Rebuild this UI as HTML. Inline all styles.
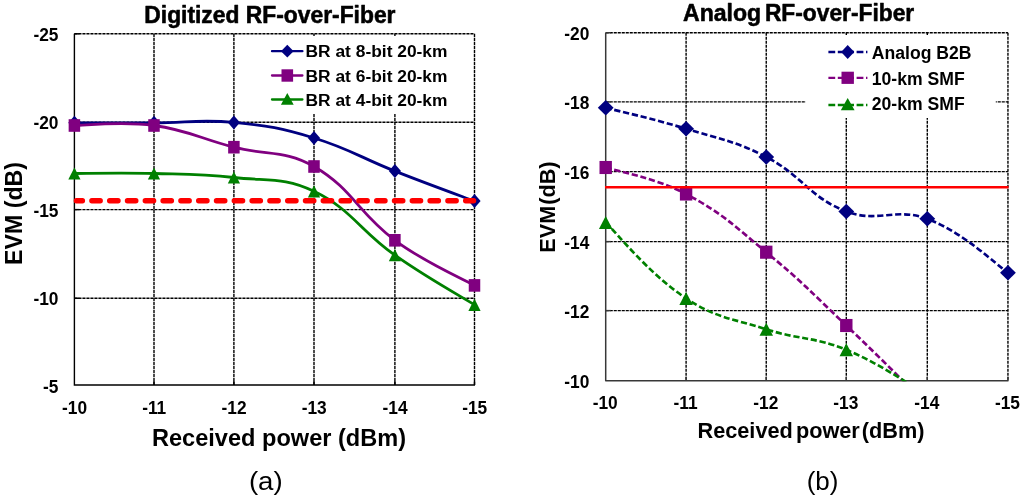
<!DOCTYPE html>
<html><head><meta charset="utf-8"><title>RF-over-Fiber EVM charts</title>
<style>
html,body{margin:0;padding:0;background:#fff}
svg{display:block;will-change:transform}
text{font-family:"Liberation Sans", sans-serif;fill:#000}
</style></head><body>
<svg width="1024" height="498" viewBox="0 0 1024 498">
<rect width="1024" height="498" fill="#fff"/>
<path d="M154.00 33.80V385.00" stroke="#000" stroke-width="1.4" stroke-dasharray="3.1 0.9" fill="none"/>
<path d="M233.90 33.80V385.00" stroke="#000" stroke-width="1.4" stroke-dasharray="3.1 0.9" fill="none"/>
<path d="M314.00 33.80V385.00" stroke="#000" stroke-width="1.4" stroke-dasharray="3.1 0.9" fill="none"/>
<path d="M394.90 33.80V385.00" stroke="#000" stroke-width="1.4" stroke-dasharray="3.1 0.9" fill="none"/>
<path d="M474.50 33.80V385.00" stroke="#000" stroke-width="1.4" stroke-dasharray="3.1 0.9" fill="none"/>
<path d="M74.40 33.80H474.50" stroke="#000" stroke-width="1.4" stroke-dasharray="3.1 0.9" fill="none"/>
<path d="M74.40 122.20H474.50" stroke="#000" stroke-width="1.4" stroke-dasharray="3.1 0.9" fill="none"/>
<path d="M74.40 209.60H474.50" stroke="#000" stroke-width="1.4" stroke-dasharray="3.1 0.9" fill="none"/>
<path d="M74.40 298.30H474.50" stroke="#000" stroke-width="1.4" stroke-dasharray="3.1 0.9" fill="none"/>
<rect x="262" y="36" width="210.5" height="78" fill="#fff"/>
<path d="M74.40 33.80V385.00H475.00" stroke="#000" stroke-width="1.4" fill="none"/>
<path d="M154.00 381.00V385.00" stroke="#000" stroke-width="1.4"/>
<path d="M233.90 381.00V385.00" stroke="#000" stroke-width="1.4"/>
<path d="M314.00 381.00V385.00" stroke="#000" stroke-width="1.4"/>
<path d="M394.90 381.00V385.00" stroke="#000" stroke-width="1.4"/>
<path d="M474.50 381.00V385.00" stroke="#000" stroke-width="1.4"/>
<path d="M74.40 33.80H79.40" stroke="#000" stroke-width="1.4"/>
<path d="M74.40 122.20H79.40" stroke="#000" stroke-width="1.4"/>
<path d="M74.40 209.60H79.40" stroke="#000" stroke-width="1.4"/>
<path d="M74.40 298.30H79.40" stroke="#000" stroke-width="1.4"/>
<path d="M74.40 122.80 C85.54 122.80 120.57 122.88 154.00 122.80 C187.56 122.72 200.65 119.24 233.90 122.40 C267.85 125.63 281.35 128.12 314.00 138.00 C348.97 148.58 360.74 157.67 394.90 171.10 C428.15 184.17 463.36 196.90 474.50 201.10" stroke="#000080" stroke-width="2.80" fill="none" stroke-linejoin="round"/>
<path d="M74.40 115.80L80.50 122.80L74.40 129.80L68.30 122.80Z" fill="#000080"/>
<path d="M154.00 115.80L160.10 122.80L154.00 129.80L147.90 122.80Z" fill="#000080"/>
<path d="M233.90 115.40L240.00 122.40L233.90 129.40L227.80 122.40Z" fill="#000080"/>
<path d="M314.00 131.00L320.10 138.00L314.00 145.00L307.90 138.00Z" fill="#000080"/>
<path d="M394.90 164.10L401.00 171.10L394.90 178.10L388.80 171.10Z" fill="#000080"/>
<path d="M474.50 194.10L480.60 201.10L474.50 208.10L468.40 201.10Z" fill="#000080"/>
<path d="M74.40 125.50 C85.54 125.50 121.16 121.03 154.00 125.50 C188.15 130.15 200.22 138.57 233.90 147.20 C267.42 155.79 284.97 149.71 314.00 166.50 C352.59 188.81 358.17 213.09 394.90 240.30 C425.58 263.03 463.36 279.09 474.50 285.40" stroke="#800080" stroke-width="2.80" fill="none" stroke-linejoin="round"/>
<rect x="68.65" y="119.20" width="11.50" height="12.60" fill="#800080"/>
<rect x="148.25" y="119.20" width="11.50" height="12.60" fill="#800080"/>
<rect x="228.15" y="140.90" width="11.50" height="12.60" fill="#800080"/>
<rect x="308.25" y="160.20" width="11.50" height="12.60" fill="#800080"/>
<rect x="389.15" y="234.00" width="11.50" height="12.60" fill="#800080"/>
<rect x="468.75" y="279.10" width="11.50" height="12.60" fill="#800080"/>
<path d="M74.40 173.50 C85.54 173.50 120.59 172.66 154.00 173.50 C187.58 174.34 200.57 173.79 233.90 177.50 C267.77 181.27 284.19 176.91 314.00 191.30 C351.81 209.55 359.60 230.24 394.90 255.20 C427.01 277.91 463.36 297.86 474.50 304.80" stroke="#008000" stroke-width="2.80" fill="none" stroke-linejoin="round"/>
<path d="M74.40 167.40L80.50 179.60L68.30 179.60Z" fill="#008000"/>
<path d="M154.00 167.40L160.10 179.60L147.90 179.60Z" fill="#008000"/>
<path d="M233.90 171.40L240.00 183.60L227.80 183.60Z" fill="#008000"/>
<path d="M314.00 185.20L320.10 197.40L307.90 197.40Z" fill="#008000"/>
<path d="M394.90 249.10L401.00 261.30L388.80 261.30Z" fill="#008000"/>
<path d="M474.50 298.70L480.60 310.90L468.40 310.90Z" fill="#008000"/>
<path d="M76.35 200.75H473.6" stroke="#ff0000" stroke-width="5.3" stroke-linecap="round" stroke-dasharray="8.4 9.4" stroke-dashoffset="2.3"/>
<path d="M272 51.20H302.4" stroke="#000080" stroke-width="2.3" stroke-linecap="round"/>
<path d="M287.30 44.80L293.60 51.20L287.30 57.60L281.00 51.20Z" fill="#000080"/>
<text x="305.50" y="57.20" font-size="17.33" font-weight="bold" text-anchor="start" textLength="142.00" lengthAdjust="spacingAndGlyphs">BR at 8-bit 20-km</text>
<path d="M272 75.50H302.4" stroke="#800080" stroke-width="2.3" stroke-linecap="round"/>
<rect x="281.50" y="69.30" width="11.60" height="12.40" fill="#800080"/>
<text x="305.50" y="81.50" font-size="17.33" font-weight="bold" text-anchor="start" textLength="142.00" lengthAdjust="spacingAndGlyphs">BR at 6-bit 20-km</text>
<path d="M272 99.50H302.4" stroke="#008000" stroke-width="2.3" stroke-linecap="round"/>
<path d="M287.30 93.10L293.70 104.70L280.90 104.70Z" fill="#008000"/>
<text x="305.50" y="105.80" font-size="17.33" font-weight="bold" text-anchor="start" textLength="142.00" lengthAdjust="spacingAndGlyphs">BR at 4-bit 20-km</text>
<text x="58.50" y="40.50" font-size="17.68" font-weight="bold" text-anchor="end" textLength="25.05" lengthAdjust="spacingAndGlyphs">-25</text>
<text x="58.50" y="128.55" font-size="17.68" font-weight="bold" text-anchor="end" textLength="25.05" lengthAdjust="spacingAndGlyphs">-20</text>
<text x="58.50" y="216.60" font-size="17.68" font-weight="bold" text-anchor="end" textLength="25.05" lengthAdjust="spacingAndGlyphs">-15</text>
<text x="58.50" y="304.65" font-size="17.68" font-weight="bold" text-anchor="end" textLength="25.05" lengthAdjust="spacingAndGlyphs">-10</text>
<text x="58.50" y="392.70" font-size="17.68" font-weight="bold" text-anchor="end" textLength="15.41" lengthAdjust="spacingAndGlyphs">-5</text>
<text x="74.60" y="413.50" font-size="17.68" font-weight="bold" text-anchor="middle" textLength="25.05" lengthAdjust="spacingAndGlyphs">-10</text>
<text x="154.20" y="413.50" font-size="17.68" font-weight="bold" text-anchor="middle" textLength="24.09" lengthAdjust="spacingAndGlyphs">-11</text>
<text x="234.10" y="413.50" font-size="17.68" font-weight="bold" text-anchor="middle" textLength="25.05" lengthAdjust="spacingAndGlyphs">-12</text>
<text x="314.20" y="413.50" font-size="17.68" font-weight="bold" text-anchor="middle" textLength="25.05" lengthAdjust="spacingAndGlyphs">-13</text>
<text x="395.10" y="413.50" font-size="17.68" font-weight="bold" text-anchor="middle" textLength="25.05" lengthAdjust="spacingAndGlyphs">-14</text>
<text x="474.70" y="413.50" font-size="17.68" font-weight="bold" text-anchor="middle" textLength="25.05" lengthAdjust="spacingAndGlyphs">-15</text>
<text x="144.30" y="22.60" font-size="23.00" font-weight="bold" text-anchor="start" textLength="251.20" lengthAdjust="spacingAndGlyphs" stroke="#000" stroke-width="0.55" stroke-linejoin="round">Digitized RF-over-Fiber</text>
<text x="152.00" y="446.00" font-size="23.87" font-weight="bold" text-anchor="start" textLength="254.00" lengthAdjust="spacingAndGlyphs">Received power (dBm)</text>
<text transform="translate(22 213.5) rotate(-90)" font-size="23.2" font-weight="bold" text-anchor="middle">EVM (dB)</text>
<text x="265.80" y="489.50" font-size="26.00" font-weight="normal" text-anchor="middle" textLength="33.80" lengthAdjust="spacingAndGlyphs">(a)</text>
<path d="M686.10 32.70V380.70" stroke="#000" stroke-width="1.4" stroke-dasharray="3.1 0.9" fill="none"/>
<path d="M766.25 32.70V380.70" stroke="#000" stroke-width="1.4" stroke-dasharray="3.1 0.9" fill="none"/>
<path d="M846.30 32.70V380.70" stroke="#000" stroke-width="1.4" stroke-dasharray="3.1 0.9" fill="none"/>
<path d="M927.30 32.70V380.70" stroke="#000" stroke-width="1.4" stroke-dasharray="3.1 0.9" fill="none"/>
<path d="M1007.95 32.70V380.70" stroke="#000" stroke-width="1.4" stroke-dasharray="3.1 0.9" fill="none"/>
<path d="M605.70 32.70H1007.95" stroke="#000" stroke-width="1.4" stroke-dasharray="3.1 0.9" fill="none"/>
<path d="M605.70 101.90H1007.95" stroke="#000" stroke-width="1.4" stroke-dasharray="3.1 0.9" fill="none"/>
<path d="M605.70 171.60H1007.95" stroke="#000" stroke-width="1.4" stroke-dasharray="3.1 0.9" fill="none"/>
<path d="M605.70 241.60H1007.95" stroke="#000" stroke-width="1.4" stroke-dasharray="3.1 0.9" fill="none"/>
<path d="M605.70 310.60H1007.95" stroke="#000" stroke-width="1.4" stroke-dasharray="3.1 0.9" fill="none"/>
<rect x="805.5" y="35" width="190.3" height="83" fill="#fff"/>
<path d="M605.70 32.70V380.70H1008.45" stroke="#383838" stroke-width="1.5" fill="none" stroke-linejoin="round"/>
<path d="M686.10 376.70V380.70" stroke="#383838" stroke-width="1.4"/>
<path d="M766.25 376.70V380.70" stroke="#383838" stroke-width="1.4"/>
<path d="M846.30 376.70V380.70" stroke="#383838" stroke-width="1.4"/>
<path d="M927.30 376.70V380.70" stroke="#383838" stroke-width="1.4"/>
<path d="M1007.95 376.70V380.70" stroke="#383838" stroke-width="1.4"/>
<path d="M605.70 32.70H610.70" stroke="#383838" stroke-width="1.4"/>
<path d="M605.70 101.90H610.70" stroke="#383838" stroke-width="1.4"/>
<path d="M605.70 171.60H610.70" stroke="#383838" stroke-width="1.4"/>
<path d="M605.70 241.60H610.70" stroke="#383838" stroke-width="1.4"/>
<path d="M605.70 310.60H610.70" stroke="#383838" stroke-width="1.4"/>
<clipPath id="cr"><rect x="593.70" y="32.70" width="426.25" height="348.50"/></clipPath>
<g clip-path="url(#cr)">
<path d="M605.70 107.80 C616.96 110.74 652.76 118.58 686.10 128.80 C720.19 139.25 734.81 140.77 766.25 157.00 C802.09 175.50 809.53 197.39 846.30 211.50 C877.18 223.35 896.34 207.08 927.30 218.80 C964.23 232.78 996.66 265.15 1007.95 272.70" stroke="#000080" stroke-width="2.65" fill="none" stroke-dasharray="6.2 2.8"/>
<path d="M605.70 100.00L613.60 107.80L605.70 115.60L597.80 107.80Z" fill="#000080"/>
<path d="M686.10 121.00L694.00 128.80L686.10 136.60L678.20 128.80Z" fill="#000080"/>
<path d="M766.25 149.20L774.15 157.00L766.25 164.80L758.35 157.00Z" fill="#000080"/>
<path d="M846.30 203.70L854.20 211.50L846.30 219.30L838.40 211.50Z" fill="#000080"/>
<path d="M927.30 211.00L935.20 218.80L927.30 226.60L919.40 218.80Z" fill="#000080"/>
<path d="M1007.95 264.90L1015.85 272.70L1007.95 280.50L1000.05 272.70Z" fill="#000080"/>
<path d="M605.70 167.50 C616.96 171.21 655.03 177.61 686.10 194.00 C722.46 213.18 734.15 225.85 766.25 252.20 C801.43 281.08 813.23 294.13 846.30 325.50 C880.88 358.30 915.96 393.87 927.30 405.00" stroke="#800080" stroke-width="2.65" fill="none" stroke-dasharray="6.2 2.8"/>
<rect x="599.50" y="160.95" width="12.40" height="13.10" fill="#800080"/>
<rect x="679.90" y="187.45" width="12.40" height="13.10" fill="#800080"/>
<rect x="760.05" y="245.65" width="12.40" height="13.10" fill="#800080"/>
<rect x="840.10" y="318.95" width="12.40" height="13.10" fill="#800080"/>
<rect x="921.10" y="398.45" width="12.40" height="13.10" fill="#800080"/>
<path d="M605.70 222.50 C616.96 233.13 648.15 273.16 686.10 298.40 C715.58 318.01 731.96 318.30 766.25 329.30 C799.24 339.88 814.48 336.72 846.30 349.80 C882.12 364.52 915.96 389.10 927.30 395.50" stroke="#008000" stroke-width="2.65" fill="none" stroke-dasharray="6.2 2.8"/>
<path d="M605.70 216.00L612.45 229.00L598.95 229.00Z" fill="#008000"/>
<path d="M686.10 291.90L692.85 304.90L679.35 304.90Z" fill="#008000"/>
<path d="M766.25 322.80L773.00 335.80L759.50 335.80Z" fill="#008000"/>
<path d="M846.30 343.30L853.05 356.30L839.55 356.30Z" fill="#008000"/>
<path d="M927.30 389.00L934.05 402.00L920.55 402.00Z" fill="#008000"/>
</g>
<path d="M605 187.3H1008.55" stroke="#ff0000" stroke-width="2.6"/>
<path d="M828.4 52.00H867.4" stroke="#000080" stroke-width="2.3" stroke-dasharray="6.8 2.6"/>
<path d="M847.70 45.10L854.30 52.00L847.70 58.90L841.10 52.00Z" fill="#000080"/>
<text x="871.80" y="58.60" font-size="17.60" font-weight="bold" text-anchor="start" textLength="99.74" lengthAdjust="spacingAndGlyphs">Analog B2B</text>
<path d="M828.4 77.80H867.4" stroke="#800080" stroke-width="2.3" stroke-dasharray="6.8 2.6"/>
<rect x="841.50" y="71.70" width="12.40" height="12.20" fill="#800080"/>
<text x="871.80" y="84.80" font-size="17.60" font-weight="bold" text-anchor="start" textLength="92.92" lengthAdjust="spacingAndGlyphs">10-km SMF</text>
<path d="M828.4 105.00H867.4" stroke="#008000" stroke-width="2.3" stroke-dasharray="6.8 2.6"/>
<path d="M847.70 98.10L854.60 110.30L840.80 110.30Z" fill="#008000"/>
<text x="871.80" y="110.30" font-size="17.60" font-weight="bold" text-anchor="start" textLength="92.92" lengthAdjust="spacingAndGlyphs">20-km SMF</text>
<text x="589.30" y="39.70" font-size="17.68" font-weight="bold" text-anchor="end" textLength="25.05" lengthAdjust="spacingAndGlyphs">-20</text>
<text x="589.30" y="108.90" font-size="17.68" font-weight="bold" text-anchor="end" textLength="25.05" lengthAdjust="spacingAndGlyphs">-18</text>
<text x="589.30" y="178.60" font-size="17.68" font-weight="bold" text-anchor="end" textLength="25.05" lengthAdjust="spacingAndGlyphs">-16</text>
<text x="589.30" y="248.60" font-size="17.68" font-weight="bold" text-anchor="end" textLength="25.05" lengthAdjust="spacingAndGlyphs">-14</text>
<text x="589.30" y="317.60" font-size="17.68" font-weight="bold" text-anchor="end" textLength="25.05" lengthAdjust="spacingAndGlyphs">-12</text>
<text x="589.30" y="387.70" font-size="17.68" font-weight="bold" text-anchor="end" textLength="25.05" lengthAdjust="spacingAndGlyphs">-10</text>
<text x="605.20" y="408.70" font-size="17.68" font-weight="bold" text-anchor="middle" textLength="25.05" lengthAdjust="spacingAndGlyphs">-10</text>
<text x="685.60" y="408.70" font-size="17.68" font-weight="bold" text-anchor="middle" textLength="24.09" lengthAdjust="spacingAndGlyphs">-11</text>
<text x="765.75" y="408.70" font-size="17.68" font-weight="bold" text-anchor="middle" textLength="25.05" lengthAdjust="spacingAndGlyphs">-12</text>
<text x="845.80" y="408.70" font-size="17.68" font-weight="bold" text-anchor="middle" textLength="25.05" lengthAdjust="spacingAndGlyphs">-13</text>
<text x="926.80" y="408.70" font-size="17.68" font-weight="bold" text-anchor="middle" textLength="25.05" lengthAdjust="spacingAndGlyphs">-14</text>
<text x="1007.45" y="408.70" font-size="17.68" font-weight="bold" text-anchor="middle" textLength="25.05" lengthAdjust="spacingAndGlyphs">-15</text>
<text x="683.00" y="20.60" font-size="24.00" font-weight="bold" text-anchor="start" textLength="78.20" lengthAdjust="spacingAndGlyphs" stroke="#000" stroke-width="0.55" stroke-linejoin="round">Analog</text>
<text x="764.90" y="20.60" font-size="24.00" font-weight="bold" text-anchor="start" textLength="149.30" lengthAdjust="spacingAndGlyphs" stroke="#000" stroke-width="0.55" stroke-linejoin="round">RF-over-Fiber</text>
<text x="697.50" y="438.00" font-size="21.70" font-weight="bold" text-anchor="start" textLength="95.30" lengthAdjust="spacingAndGlyphs">Received</text>
<text x="795.90" y="438.00" font-size="21.70" font-weight="bold" text-anchor="start" textLength="63.90" lengthAdjust="spacingAndGlyphs">power</text>
<text x="861.80" y="438.00" font-size="21.70" font-weight="bold" text-anchor="start" textLength="62.67" lengthAdjust="spacingAndGlyphs">(dBm)</text>
<text transform="translate(554.6 252.8) rotate(-90)" font-size="21.7" font-weight="bold">EVM</text>
<text transform="translate(554.6 204.8) rotate(-90)" font-size="21.7" font-weight="bold">(dB)</text>
<text x="822.60" y="489.50" font-size="26.00" font-weight="normal" text-anchor="middle" textLength="31.78" lengthAdjust="spacingAndGlyphs">(b)</text>
</svg>
</body></html>
